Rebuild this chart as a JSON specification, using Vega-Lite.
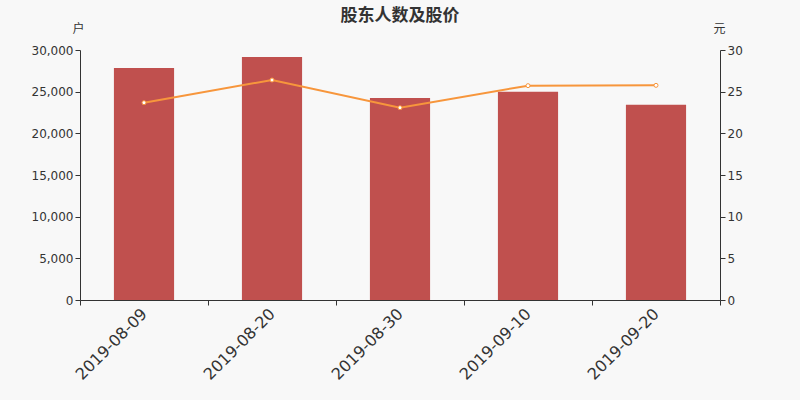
{
  "$schema": "https://vega.github.io/schema/vega-lite/v6.json",
  "width": 640,
  "height": 250,
  "autosize": {"type": "none"},
  "padding": {"left": 80, "top": 50, "right": 80, "bottom": 100},
  "background": "#f8f8f8",
  "title": {
    "text": "股东人数及股价",
    "font": "Noto Sans CJK SC",
    "fontSize": 17,
    "fontWeight": "bold",
    "color": "#333333",
    "anchor": "middle",
    "frame": "group",
    "offset": 0,
    "dy": 3
  },
  "config": {
    "view": {"stroke": null},
    "axis": {
      "labelFont": "DejaVu Sans",
      "titleFont": "Noto Sans CJK SC",
      "labelColor": "#333333",
      "titleColor": "#333333",
      "domainColor": "#333333",
      "tickColor": "#333333",
      "grid": false
    }
  },
  "data": {
    "values": [
      {"date": "2019-08-09", "holders": 27840, "price": 23.68},
      {"date": "2019-08-20", "holders": 29160, "price": 26.4},
      {"date": "2019-08-30", "holders": 24240, "price": 23.08},
      {"date": "2019-09-10", "holders": 25000, "price": 25.72},
      {"date": "2019-09-20", "holders": 23440, "price": 25.76}
    ]
  },
  "encoding": {
    "x": {
      "field": "date",
      "type": "nominal",
      "scale": {"paddingInner": 0, "paddingOuter": 0},
      "axis": {
        "title": null,
        "labelAngle": -45,
        "labelFontSize": 16,
        "labelAlign": "right",
        "labelBaseline": "middle",
        "labelPadding": 6,
        "tickBand": "extent",
        "tickSize": 5
      }
    }
  },
  "layer": [
    {
      "mark": {"type": "bar", "color": "#c0504e", "width": {"band": 0.47}},
      "encoding": {
        "y": {
          "field": "holders",
          "type": "quantitative",
          "scale": {"domain": [0, 30000]},
          "axis": {
            "title": "户",
            "titleAngle": 0,
            "titleFontSize": 12,
            "titleFontWeight": "normal",
            "titleX": -2,
            "titleY": -22,
            "titleAlign": "center",
            "titleBaseline": "middle",
            "tickCount": 6,
            "labelFontSize": 12,
            "format": ",d",
            "tickSize": 5
          }
        }
      }
    },
    {
      "mark": {
        "type": "line",
        "color": "#f7963c",
        "strokeWidth": 2,
        "point": {"filled": true, "fill": "#ffffff", "stroke": "#f7963c", "strokeWidth": 1, "size": 16}
      },
      "encoding": {
        "y": {
          "field": "price",
          "type": "quantitative",
          "scale": {"domain": [0, 30]},
          "axis": {
            "orient": "right",
            "title": "元",
            "titleAngle": 0,
            "titleFontSize": 12,
            "titleFontWeight": "normal",
            "titleX": -1,
            "titleY": -22,
            "titleAlign": "center",
            "titleBaseline": "middle",
            "tickCount": 6,
            "labelFontSize": 12,
            "tickSize": 5
          }
        }
      }
    }
  ],
  "resolve": {"scale": {"y": "independent"}}
}
